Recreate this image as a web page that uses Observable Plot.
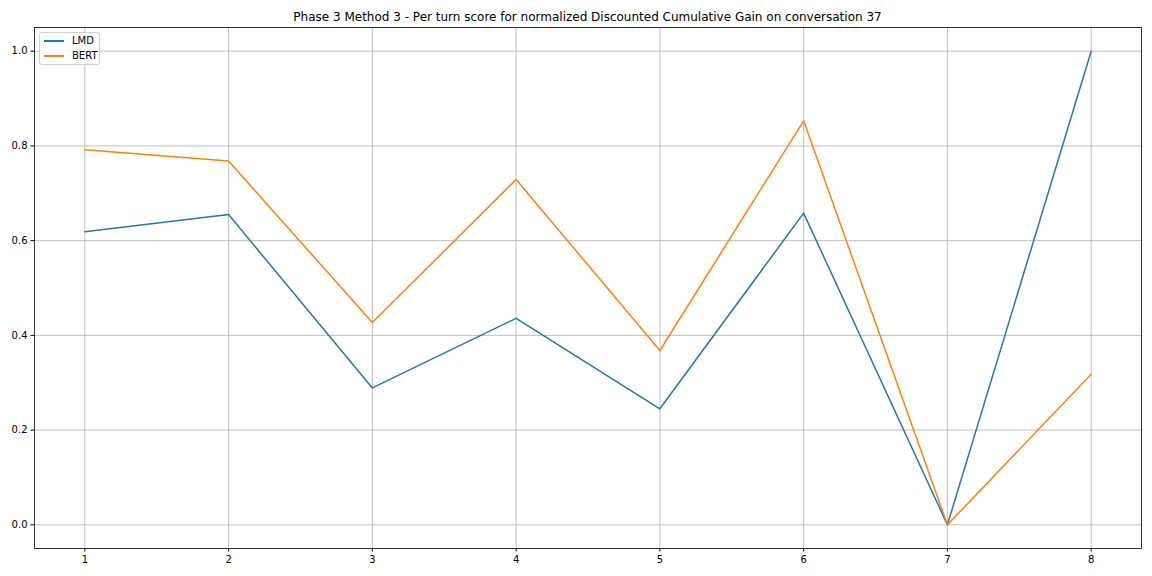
<!DOCTYPE html>
<html><head><meta charset="utf-8">
<script src="https://cdn.jsdelivr.net/npm/d3@7"></script>
<script src="https://cdn.jsdelivr.net/npm/@observablehq/plot@0.6"></script>
<style>
body{margin:0;background:#fff;font-family:"DejaVu Sans",sans-serif;}
#wrap{position:relative;width:1152px;height:576px;background:#fff;}
#title{box-sizing:border-box;height:24px;padding:10px 11px 0 34px;line-height:14px;text-align:center;font-size:12px;color:#000;white-space:nowrap;}
#legend{position:absolute;left:39px;top:32px;width:61px;height:33px;box-sizing:border-box;border:1px solid #d0d0d0;border-radius:3px;background:rgba(255,255,255,0.8);font-size:10px;color:#000;}
.item{position:absolute;left:4px;height:14px;line-height:14px;}
.item span.sw{display:inline-block;width:20px;height:2px;vertical-align:middle;margin-right:8px;}
svg{display:block;}
</style></head>
<body>
<div id="wrap">
<div id="title">Phase 3 Method 3 - Per turn score for normalized Discounted Cumulative Gain on conversation 37</div>
<div id="chart"></div>
<div id="legend"></div>
</div>
<script>
const turns = [1, 2, 3, 4, 5, 6, 7, 8];
const lmd  = [0.619, 0.655, 0.289, 0.436, 0.245, 0.658, 0.0, 1.0];
const bert = [0.792, 0.768, 0.427, 0.729, 0.368, 0.853, 0.0, 0.318];
const seriesNames = ["LMD", "BERT"];
const seriesColors = ["#1f77b4", "#ff7f0e"];
const yTicks = [0.0, 0.2, 0.4, 0.6, 0.8, 1.0];

const rows = [
  ...turns.map((t, i) => ({turn: t, value: lmd[i], series: "LMD"})),
  ...turns.map((t, i) => ({turn: t, value: bert[i], series: "BERT"}))
];

const chart = Plot.plot({
  width: 1152,
  height: 552,
  marginLeft: 34,
  marginRight: 11,
  marginTop: 3,
  marginBottom: 28,
  style: {fontFamily: "DejaVu Sans, sans-serif", fontSize: "10px", color: "#000", background: "#fff"},
  x: {domain: [0.65, 8.35], label: null},
  y: {domain: [-0.05, 1.05], label: null},
  color: {domain: seriesNames, range: seriesColors},
  marks: [
    Plot.gridX(turns, {stroke: "#b0b0b0", strokeOpacity: 1, strokeWidth: 0.8}),
    Plot.gridY(yTicks, {stroke: "#b0b0b0", strokeOpacity: 1, strokeWidth: 0.8}),
    Plot.line(rows, {x: "turn", y: "value", z: "series", stroke: "series", strokeWidth: 1.5}),
    Plot.frame({stroke: "#000", strokeWidth: 0.8}),
    Plot.axisX(turns, {tickSize: 3.5, tickPadding: 3.5, tickFormat: d => String(d), label: null, stroke: "#000"}),
    Plot.axisY(yTicks, {tickSize: 3.5, tickPadding: 3.5, tickFormat: d3.format(".1f"), label: null, stroke: "#000"})
  ]
});
document.getElementById("chart").appendChild(chart);

const legend = document.getElementById("legend");
seriesNames.forEach((name, i) => {
  const item = document.createElement("div");
  item.className = "item";
  item.style.top = (1 + i * 15) + "px";
  item.innerHTML = `<span class="sw" style="background:${seriesColors[i]}"></span>${name}`;
  legend.appendChild(item);
});
</script>
</body></html>
